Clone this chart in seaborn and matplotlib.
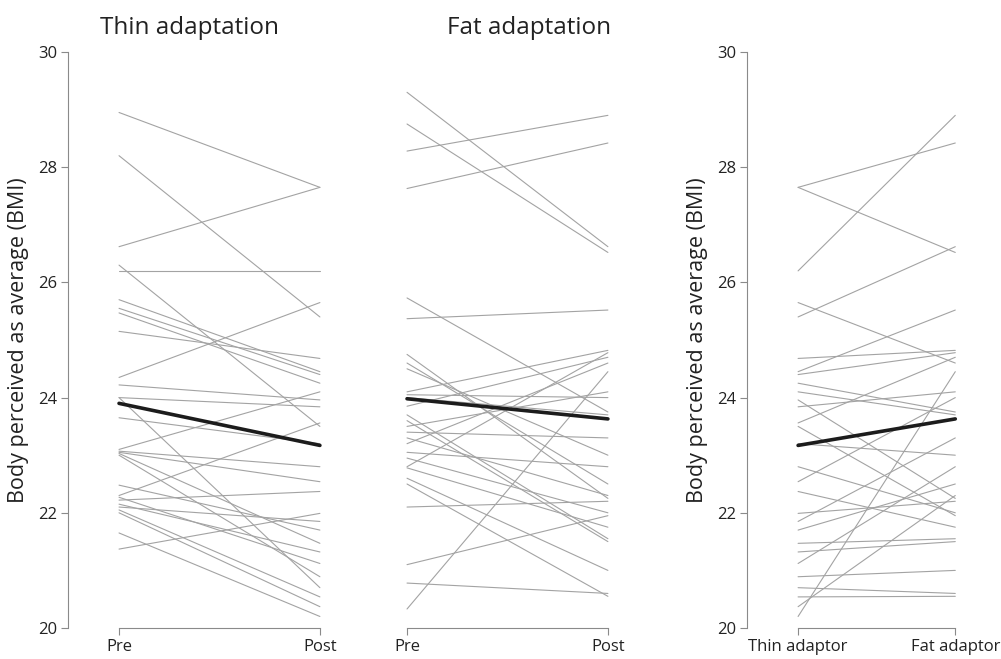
import numpy as np
import pandas as pd
import matplotlib.pyplot as plt
import seaborn as sns

# per participant: perceived-average BMI before/after each adaptation
thin_pre = [28.95, 28.20, 26.62, 26.20, 26.30, 25.70, 25.55, 25.47, 25.15, 24.35,
            24.22, 24.00, 24.00, 23.65, 23.10, 23.07, 23.05, 23.03, 23.00, 22.48,
            22.30, 22.22, 22.15, 22.10, 22.05, 21.65, 21.37, 22.27, 22.00]
thin_post = [27.65, 25.40, 27.65, 26.20, 23.50, 24.45, 24.40, 24.25, 24.68, 25.65,
             23.96, 23.84, 20.70, 23.20, 24.10, 22.80, 22.54, 21.47, 20.89, 21.70,
             23.56, 22.37, 21.32, 21.85, 20.54, 20.20, 21.99, 21.12, 20.37]
fat_pre = [27.63, 29.30, 28.75, 28.28, 21.10, 25.37, 22.80, 25.73, 24.10, 23.20,
           24.75, 23.50, 20.78, 24.50, 24.00, 22.95, 24.05, 23.70, 22.60, 24.60,
           23.85, 22.78, 23.60, 23.40, 22.50, 20.33, 22.10, 23.05, 23.30]
fat_post = [28.42, 26.62, 26.52, 28.90, 21.95, 25.52, 24.78, 23.75, 24.82, 24.60,
            22.25, 24.10, 20.60, 23.00, 23.70, 22.00, 24.00, 21.55, 21.00, 22.50,
            24.70, 21.75, 21.50, 23.30, 20.55, 24.45, 22.20, 22.80, 22.30]

thin_mean = [23.90, 23.17]
fat_mean = [23.98, 23.63]
adaptor_mean = [23.17, 23.63]

titles = ['Thin adaptation', 'Fat adaptation']
prepost_labels = ['Pre', 'Post']
adaptor_labels = ['Thin adaptor', 'Fat adaptor']
yticks = [20, 22, 24, 26, 28, 30]

sns.set_style('white')
plt.rcParams['font.family'] = ['Open Sans', 'DejaVu Sans']

W, H = 1001, 659
fig = plt.figure(figsize=(W / 100, H / 100), dpi=100)


def box(left, right):
    return [left / W, (H - 628) / H, (right - left) / W, 576 / H]


def long_form(a, b):
    n = len(a)
    return pd.DataFrame({'subject': list(range(n)) * 2,
                         'x': [0] * n + [1] * n,
                         'bmi': list(a) + list(b)})


def draw(ax, a, b, mean, labels, xmin, show_y):
    sns.lineplot(data=long_form(a, b), x='x', y='bmi', units='subject',
                 estimator=None, color='#a3a3a3', lw=0.8, ax=ax, legend=False)
    sns.lineplot(x=[0, 1], y=mean, color='#1c1c1c', lw=2.6, ax=ax)
    ax.set_xlim(xmin, 1.1)
    ax.set_ylim(20, 30)
    ax.set_xticks([0, 1])
    ax.set_xticklabels(labels)
    ax.set_xlabel('')
    for s in ['top', 'right']:
        ax.spines[s].set_visible(False)
    ax.spines['bottom'].set_bounds(0, 1)
    ax.spines['bottom'].set_color('#8a8a8a')
    ax.spines['left'].set_color('#8a8a8a')
    ax.spines['left'].set_bounds(20, 30)
    ax.tick_params(axis='both', direction='out', length=5, width=0.8,
                   bottom=True, left=show_y, color='#8a8a8a', labelsize=12,
                   labelcolor='#222222', pad=3)
    if show_y:
        ax.set_yticks(yticks)
        ax.set_ylabel('Body perceived as average (BMI)', fontsize=15.5,
                      color='#222222', labelpad=6)
    else:
        ax.spines['left'].set_visible(False)
        ax.set_yticks([])
        ax.set_ylabel('')
    ax.patch.set_alpha(0)


ax1 = fig.add_axes(box(68, 340))
draw(ax1, thin_pre, thin_post, thin_mean, prepost_labels, -0.254, True)
ax2 = fig.add_axes(box(356, 628))
draw(ax2, fat_pre, fat_post, fat_mean, prepost_labels, -0.254, False)
ax3 = fig.add_axes(box(747, 971))
draw(ax3, thin_post, fat_post, adaptor_mean, adaptor_labels, -0.325, True)

fig.text(190 / W, 1 - 28 / H, titles[0], ha='center', va='center',
         fontsize=17.5, color='#222222')
fig.text(529 / W, 1 - 28 / H, titles[1], ha='center', va='center',
         fontsize=17.5, color='#222222')

fig.savefig('out.png', dpi=100)
